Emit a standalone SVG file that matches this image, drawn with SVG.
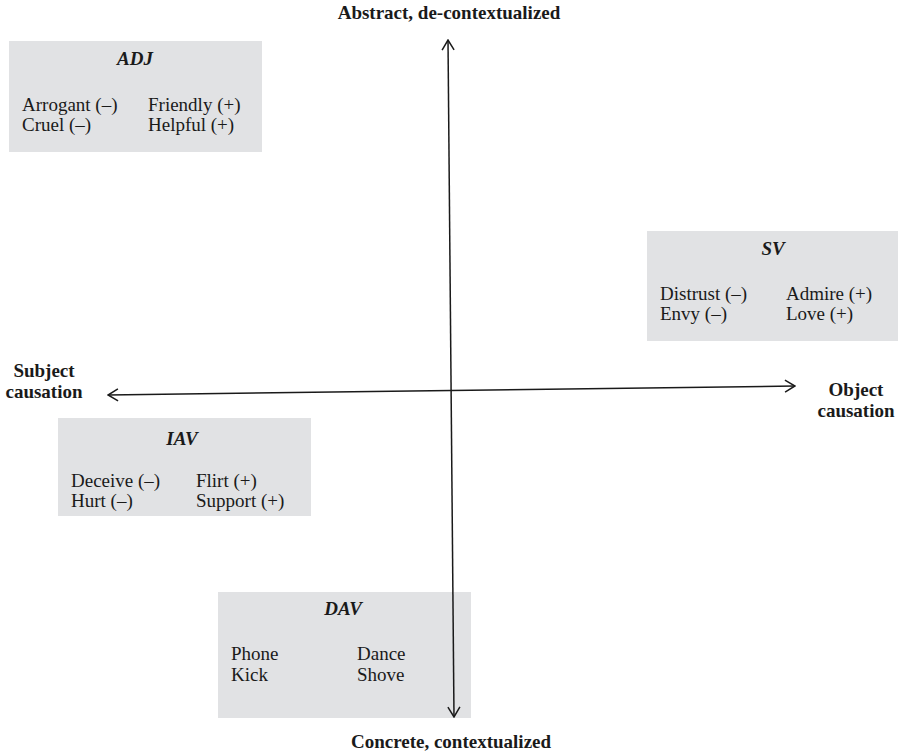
<svg xmlns="http://www.w3.org/2000/svg" width="899" height="752" viewBox="0 0 899 752">
  <style>
    .box { fill: #e1e2e4; }
    .title { font-family: "Liberation Serif", "Times New Roman", serif; font-size: 19px; font-weight: bold; font-style: italic; fill: #1a1a1a; text-anchor: middle; }
    .item { font-family: "Liberation Serif", "Times New Roman", serif; font-size: 19px; fill: #1a1a1a; }
    .axis-label { font-family: "Liberation Serif", "Times New Roman", serif; font-size: 19px; font-weight: bold; fill: #1a1a1a; text-anchor: middle; }
    .axis { stroke: #1a1a1a; stroke-width: 1.5; fill: none; }
  </style>
  <defs>
    <marker id="open-arrow" viewBox="0 0 12 14" refX="11" refY="7" markerWidth="12" markerHeight="14" markerUnits="userSpaceOnUse" orient="auto-start-reverse">
      <path d="M1,1 L11,7 L1,13" fill="none" stroke="#1a1a1a" stroke-width="1.5"/>
    </marker>
  </defs>

  <rect width="899" height="752" fill="#ffffff"/>

  <!-- category boxes -->
  <g id="ADJ">
    <rect class="box" x="9" y="41" width="253" height="111"/>
    <text class="title" x="135" y="65">ADJ</text>
    <text class="item" x="22" y="111">Arrogant (–)</text>
    <text class="item" x="22" y="131">Cruel (–)</text>
    <text class="item" x="148" y="111">Friendly (+)</text>
    <text class="item" x="148" y="131">Helpful (+)</text>
  </g>

  <g id="SV">
    <rect class="box" x="647" y="231" width="251" height="110"/>
    <text class="title" x="773" y="255">SV</text>
    <text class="item" x="660" y="300">Distrust (–)</text>
    <text class="item" x="660" y="320">Envy (–)</text>
    <text class="item" x="786" y="300">Admire (+)</text>
    <text class="item" x="786" y="320">Love (+)</text>
  </g>

  <g id="IAV">
    <rect class="box" x="58" y="418" width="253" height="98"/>
    <text class="title" x="182" y="445">IAV</text>
    <text class="item" x="71" y="487">Deceive (–)</text>
    <text class="item" x="71" y="507">Hurt (–)</text>
    <text class="item" x="196" y="487">Flirt (+)</text>
    <text class="item" x="196" y="507">Support (+)</text>
  </g>

  <g id="DAV">
    <rect class="box" x="218" y="592" width="253" height="126"/>
    <text class="title" x="343" y="615">DAV</text>
    <text class="item" x="231" y="660">Phone</text>
    <text class="item" x="231" y="681">Kick</text>
    <text class="item" x="357" y="660">Dance</text>
    <text class="item" x="357" y="681">Shove</text>
  </g>

  <!-- axes -->
  <g id="connectors">
    <line class="axis" x1="448" y1="40" x2="454" y2="717" marker-start="url(#open-arrow)" marker-end="url(#open-arrow)"/>
    <line class="axis" x1="108" y1="395" x2="795" y2="386" marker-start="url(#open-arrow)" marker-end="url(#open-arrow)"/>
  </g>

  <!-- axis labels -->
  <g id="axis-labels">
    <text class="axis-label" x="449" y="19">Abstract, de-contextualized</text>
    <text class="axis-label" x="451" y="748">Concrete, contextualized</text>
    <text class="axis-label" x="44" y="377">Subject</text>
    <text class="axis-label" x="44" y="398">causation</text>
    <text class="axis-label" x="856" y="396">Object</text>
    <text class="axis-label" x="856" y="417">causation</text>
  </g>
</svg>
